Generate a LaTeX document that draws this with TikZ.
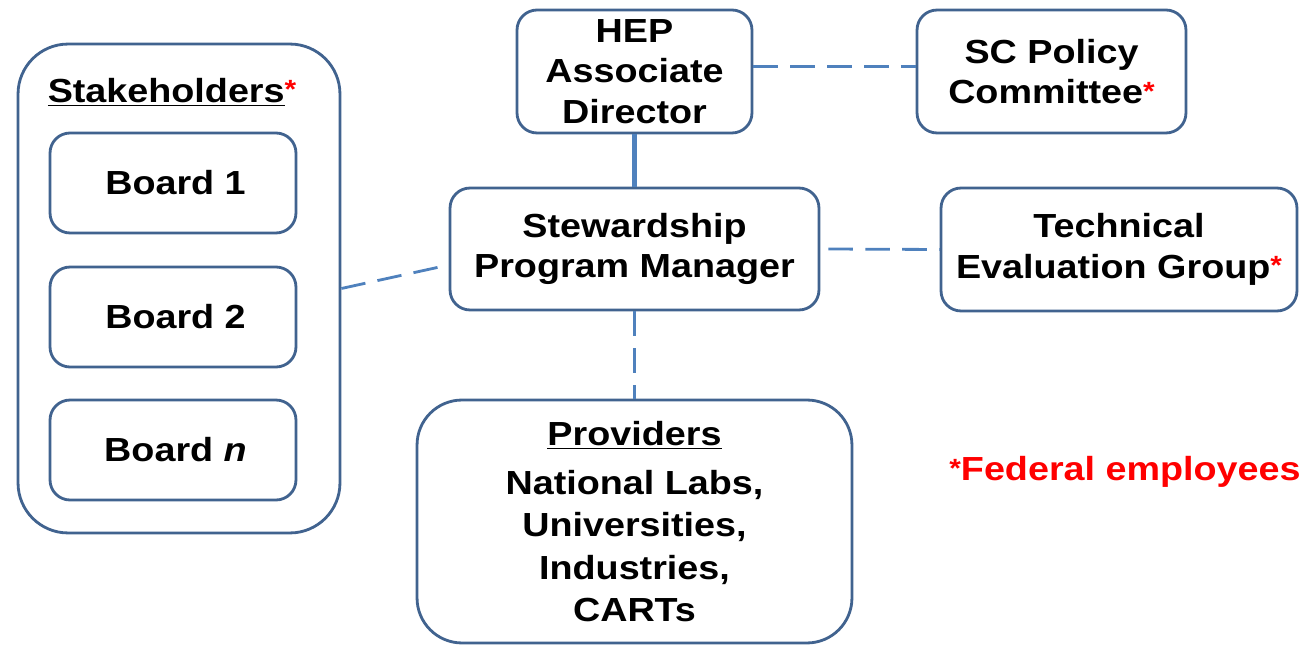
\documentclass[tikz,border=0pt]{standalone}
\usepackage{fontspec}
\setmainfont[FakeStretch=1.13]{Liberation Sans}
\usetikzlibrary{arrows.meta, calc}
\definecolor{boxline}{HTML}{41638F}
\definecolor{linkline}{HTML}{4F81BD}
\definecolor{fedred}{HTML}{FF0000}
\newcommand{\fedmark}{\raisebox{2pt}{\textcolor{fedred}{\fontsize{15}{15}\selectfont *}}}

\begin{document}
\begin{tikzpicture}[>=Latex, x=0.02cm, y=-0.02cm,
	every node/.style={font=\fontsize{19}{23}\selectfont\bfseries, align=center},
	box/.style={draw=boxline, line width=1.6pt, rounded corners=0.4cm, fill=white},
	link/.style={draw=linkline, line width=1.6pt},
	dashlink/.style={link, dash pattern=on 14pt off 7pt}]
	\useasboundingbox (0,0) rectangle (1305,645);
	% stakeholders and their boards
	\node[box, rounded corners=1cm, minimum width=6.44cm, minimum height=9.78cm] (stake) at (179,288.5) {};
	\node (stakelbl) at (172,92) {\underline{Stakeholders}\fedmark};
	\node[box, minimum width=4.92cm, minimum height=2cm] (board1) at (173,183) {\hspace*{0.1cm}Board 1};
	\node[box, minimum width=4.92cm, minimum height=2cm] (board2) at (173,317) {\hspace*{0.1cm}Board 2};
	\node[box, minimum width=4.92cm, minimum height=2cm] (boardn) at (173,450) {\hspace*{0.1cm}Board \textit{n}};
	
	% management line
	\node[box, minimum width=4.7cm, minimum height=2.46cm] (hep) at (634.5,71.5) {HEP\\Associate\\Director};
	\node[box, minimum width=5.38cm, minimum height=2.46cm] (scpc) at (1051.5,71.5) {SC Policy\\Committee\fedmark};
	\node[box, minimum width=7.38cm, minimum height=2.44cm] (spm) at (634.5,249) {Stewardship\\Program Manager};
	\node[box, minimum width=7.12cm, minimum height=2.46cm] (teg) at (1119,249.5) {Technical\\Evaluation Group\fedmark};
	\node[box, rounded corners=0.9cm, minimum width=8.7cm, minimum height=4.86cm] (prov) at (634.5,521.5)
	{\underline{Providers}\\[5pt] National Labs,\\[1pt]Universities,\\[1pt]Industries,\\[1pt]CARTs};
	
	\node[text=fedred] (fed) at (1125,472) {\fedmark Federal employees};
	
	% connectors
	\draw[link, line width=2.8pt] (hep.south) -- (spm.north);
	\draw[dashlink] ([yshift=0.1cm]hep.east) -- ([yshift=0.1cm]scpc.west);
	\draw[dashlink] ([xshift=0.16cm]spm.east) -- (teg.west);
	\draw[dashlink] (stake.east) -- ([yshift=-0.32cm]spm.west);
	\draw[dashlink] (spm.south) -- (prov.north);
\end{tikzpicture}
\end{document}
